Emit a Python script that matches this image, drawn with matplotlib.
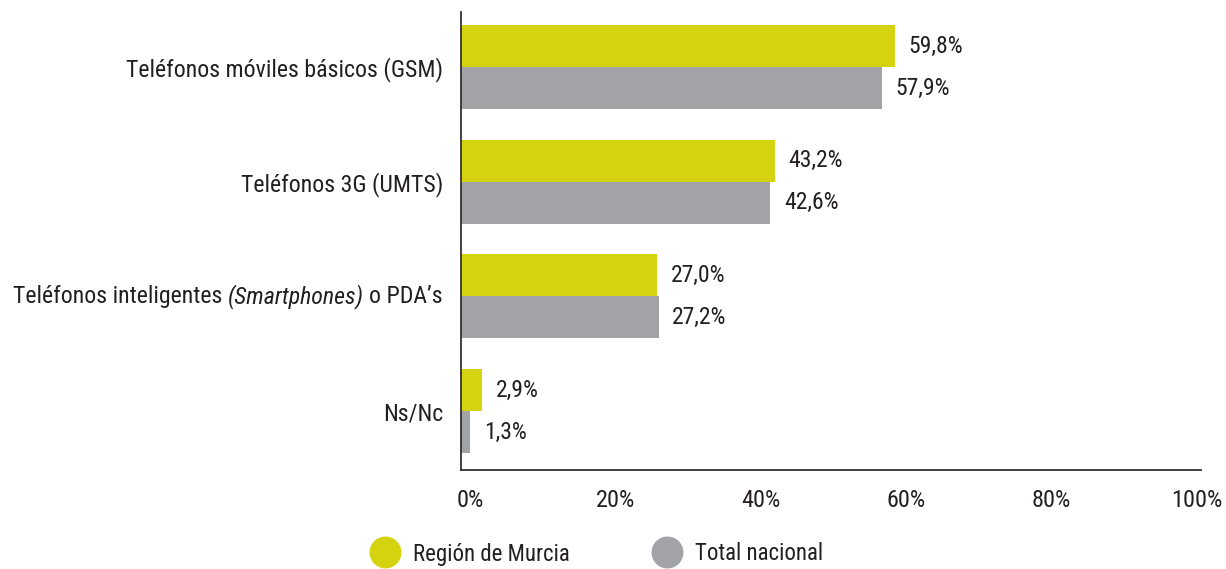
import matplotlib
matplotlib.use("Agg")
import matplotlib.pyplot as plt
from matplotlib.lines import Line2D
from matplotlib.transforms import ScaledTranslation, offset_copy, blended_transform_factory
import numpy as np

categories = ["Teléfonos móviles básicos (GSM)", "Teléfonos 3G (UMTS)",
              "Teléfonos inteligentes (Smartphones) o PDA’s", "Ns/Nc"]
murcia = [59.8, 43.2, 27.0, 2.9]
nacional = [57.9, 42.6, 27.2, 1.3]
series_names = ["Región de Murcia", "Total nacional"]
xticks = [0, 20, 40, 60, 80, 100]
xtick_labels = ["0%", "20%", "40%", "60%", "80%", "100%"]

YELLOW = "#D5D20F"
GRAY = "#A2A3A7"
TEXT = "#231F20"
FONT = ["Roboto Condensed", "Liberation Sans Narrow", "Roboto", "DejaVu Sans"]

plt.rcParams["font.family"] = FONT
plt.rcParams["text.color"] = TEXT

W, H = 1226, 569
fig = plt.figure(figsize=(W / 100, H / 100), dpi=100)
ax = fig.add_axes([461 / W, (H - 470) / H, (1201 - 461) / W, (470 - 12) / H])

y = np.arange(len(categories))
bh = 0.366
b1 = ax.barh(y - bh / 2, murcia, height=bh, color=YELLOW, label=series_names[0])
b2 = ax.barh(y + bh / 2, nacional, height=bh, color=GRAY, label=series_names[1])

fs_val = 17
fs_tick = 17.5
fs_cat = 17.2
fs_leg = 16.5
for bars, vals in ((b1, murcia), (b2, nacional)):
    for rect, v in zip(bars, vals):
        ax.annotate(f"{v:.1f}%".replace(".", ","),
                    xy=(rect.get_width(), rect.get_y() + rect.get_height() / 2),
                    xytext=(9.6, 0), textcoords="offset points",
                    ha="left", va="center", fontsize=fs_val, color=TEXT)

ax.set_xlim(0, 101.86)
ax.set_ylim(3.514, -0.48)

ax.set_xticks(xticks)
ax.set_xticklabels(xtick_labels, fontsize=fs_tick, color=TEXT)
ax.tick_params(axis="x", length=0, pad=14)
for lab in ax.get_xticklabels():
    lab.set_transform(lab.get_transform() + ScaledTranslation(9 / 100, 0, fig.dpi_scale_trans))

ylabels = [c if "Smartphones" not in c else "" for c in categories]
ax.set_yticks(y)
ax.set_yticklabels(ylabels, fontsize=fs_cat, color=TEXT)
ax.tick_params(axis="y", length=0, pad=13)

# mixed-style label (italic "(Smartphones)")
idx = [i for i, c in enumerate(categories) if "Smartphones" in c][0]
full = categories[idx]
pre, rest = full.split("(Smartphones)")
pieces = [(pre.strip(), "normal"), ("(Smartphones)", "italic"), (rest.strip(), "normal")]
fig.canvas.draw()
renderer = fig.canvas.get_renderer()
base = blended_transform_factory(ax.transAxes, ax.transData)
gap_pt = 4.0
xoff = -13.0  # points
for text, style in reversed(pieces):
    tr = offset_copy(base, fig=fig, x=xoff, y=0, units="points")
    t = ax.text(0, idx, text, transform=tr, ha="right", va="center",
                fontsize=fs_cat, style=style, color=TEXT)
    bb = t.get_window_extent(renderer)
    xoff -= bb.width * 72 / fig.dpi + gap_pt

for s in ("top", "right"):
    ax.spines[s].set_visible(False)
for s in ("left", "bottom"):
    ax.spines[s].set_color("#333333")
    ax.spines[s].set_linewidth(1.3)

handles = [Line2D([], [], linestyle="none", marker="o", markersize=22,
                  markerfacecolor=c, markeredgecolor=c) for c in (YELLOW, GRAY)]
fig.legend(handles, series_names, loc="center left",
           bbox_to_anchor=(369.5 / W, 1 - 554 / H), ncol=2, frameon=False,
           fontsize=fs_leg, handlelength=1.36, handletextpad=0.54, columnspacing=3.55,
           borderpad=0, borderaxespad=0)

fig.savefig("out.png", dpi=100)
